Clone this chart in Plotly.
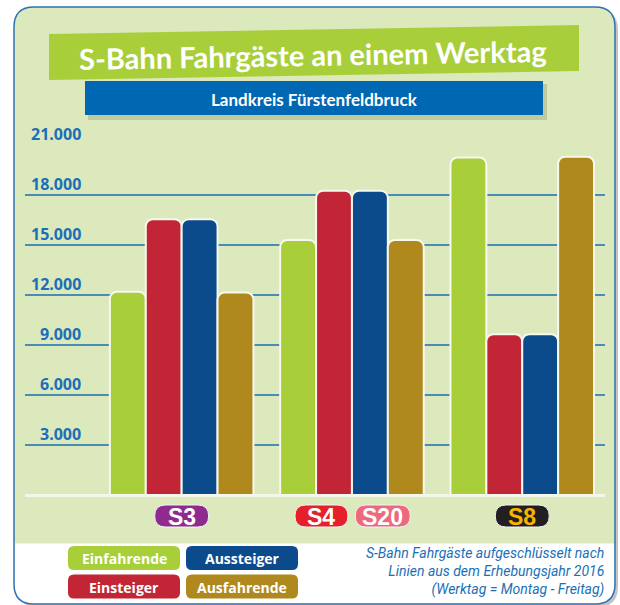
import plotly.graph_objects as go

# ---------------- data ----------------
lines = ["S3", "S4 / S20", "S8"]
einfahrende = [12200, 15300, 20250]
einsteiger = [16550, 18250, 9650]
aussteiger = [16550, 18250, 9650]
ausfahrende = [12150, 15300, 20300]
series_names = ["Einfahrende", "Einsteiger", "Aussteiger", "Ausfahrende"]
ytick_vals = [3000, 6000, 9000, 12000, 15000, 18000, 21000]
ytick_text = ["3.000", "6.000", "9.000", "12.000", "15.000", "18.000", "21.000"]
title = "S-Bahn Fahrgäste an einem Werktag"
subtitle = "Landkreis Fürstenfeldbruck"
note = "S-Bahn Fahrgäste aufgeschlüsselt nach<br>Linien aus dem Erhebungsjahr 2016<br>(Werktag = Montag - Freitag)"
badges = [["S3"], ["S4", "S20"], ["S8"]]

# ---------------- style ----------------
W, H = 620, 605
L, R, T, B = 25, 15, 145, 110
PW, PH = W - L - R, H - T - B
XR = [-0.92, 2.486]
colors = {"Einfahrende": "#a8cf3a", "Einsteiger": "#c22636",
          "Aussteiger": "#0b4a8b", "Ausfahrende": "#b0891e"}
badge_style = {"S3": ("#8f2b8f", "white"), "S4": ("#e5202a", "white"),
               "S20": ("#ec6a7c", "white"), "S8": ("#231f20", "#f7b500")}
GREEN_BG = "#dce9bc"
BLUE_TXT = "#1a6fb8"
TITLE_FONT = "Lato, Roboto, sans-serif"


def px(x):
    return (x - L) / PW


def py(y):
    return (H - B - y) / PH


def P(x, y):
    return f"{px(x):.5f},{py(y):.5f}"


def rrect(x0, y0, x1, y1, r, top=True, bottom=True):
    rt = r if top else 0
    rb = r if bottom else 0
    s = f"M {P(x0 + rt, y0)} L {P(x1 - rt, y0)} "
    if rt:
        s += f"Q {P(x1, y0)} {P(x1, y0 + rt)} "
    s += f"L {P(x1, y1 - rb)} "
    if rb:
        s += f"Q {P(x1, y1)} {P(x1 - rb, y1)} "
    s += f"L {P(x0 + rb, y1)} "
    if rb:
        s += f"Q {P(x0, y1)} {P(x0, y1 - rb)} "
    s += f"L {P(x0, y0 + rt)} "
    if rt:
        s += f"Q {P(x0, y0)} {P(x0 + rt, y0)} "
    return s + "Z"


def cat_px(i):
    return L + (i - XR[0]) / (XR[1] - XR[0]) * PW


fig = go.Figure()
vals = [einfahrende, einsteiger, aussteiger, ausfahrende]
for name, v in zip(series_names, vals):
    fig.add_trace(go.Bar(x=lines, y=v, name=name,
                         marker=dict(color=colors[name], cornerradius=7,
                                     line=dict(color="#f7f8ee", width=2)),
                         showlegend=False, hoverinfo="x+y+name"))

shapes = []
# frame shadow, frame, white lower panel, border
shapes.append(dict(type="path", xref="paper", yref="paper", layer="below",
                   path=rrect(17, 10, 618, 607, 20), fillcolor="#c4c4c4", line=dict(width=0)))
shapes.append(dict(type="path", xref="paper", yref="paper", layer="below",
                   path=rrect(14, 7, 615, 604, 20), fillcolor=GREEN_BG, line=dict(width=0)))
shapes.append(dict(type="path", xref="paper", yref="paper", layer="below",
                   path=rrect(14, 543.5, 615, 604, 20, top=False), fillcolor="white", line=dict(width=0)))
shapes.append(dict(type="path", xref="paper", yref="paper", layer="below",
                   path=rrect(14, 7, 615, 604, 20), fillcolor="rgba(0,0,0,0)",
                   line=dict(color="#2f72b3", width=1.5)))
# title banner (slightly tilted)
shapes.append(dict(type="path", xref="paper", yref="paper", layer="below",
                   path=f"M {P(49, 34)} L {P(579, 25)} L {P(579, 71)} L {P(49, 80)} Z",
                   fillcolor="#a8cf3a", line=dict(width=0)))
# subtitle box shadow + box
shapes.append(dict(type="path", xref="paper", yref="paper", layer="below",
                   path=rrect(88, 84, 547, 120, 0), fillcolor="rgba(90,90,60,0.22)", line=dict(width=0)))
shapes.append(dict(type="path", xref="paper", yref="paper", layer="below",
                   path=rrect(85, 81, 543, 115, 0), fillcolor="#0067b2", line=dict(width=0)))

annotations = []
annotations.append(dict(xref="paper", yref="paper", x=px(313), y=py(54), text=title,
                        showarrow=False, textangle=-1, xanchor="center", yanchor="middle",
                        font=dict(family=TITLE_FONT, size=29, color="white", weight="bold")))
annotations.append(dict(xref="paper", yref="paper", x=px(314), y=py(99), text=subtitle,
                        showarrow=False, xanchor="center", yanchor="middle",
                        font=dict(family=TITLE_FONT, size=17, color="white", weight="bold")))
# y labels above gridlines
for v, t in zip(ytick_vals, ytick_text):
    annotations.append(dict(xref="paper", yref="y", x=px(83), y=v, text=t, showarrow=False,
                            xanchor="right", yanchor="bottom", yshift=-2,
                            font=dict(family="Open Sans, sans-serif", size=16, color=BLUE_TXT,
                                      weight="bold")))
# line badges
badge_w = {"S3": 54, "S4": 53, "S20": 55, "S8": 54}
for i, group in enumerate(badges):
    c = cat_px(i)
    if len(group) == 1:
        centers = [c]
    else:
        centers = [c - 30.5, c + 30.8]
    for name, cx in zip(group, centers):
        bw = badge_w[name]
        bg, fg = badge_style[name]
        shapes.append(dict(type="path", xref="paper", yref="paper", layer="below",
                           path=rrect(cx - bw / 2, 505, cx + bw / 2, 527, 11),
                           fillcolor=bg, line=dict(color="#f4f4f4", width=1)))
        annotations.append(dict(xref="paper", yref="paper", x=px(cx), y=py(516.5), text=name,
                                showarrow=False, xanchor="center", yanchor="middle",
                                font=dict(family="Liberation Sans, Arial, sans-serif", size=23,
                                          color=fg, weight="bold")))
# legend boxes
leg_pos = {"Einfahrende": (68, 546), "Aussteiger": (186, 546),
           "Einsteiger": (68, 574.5), "Ausfahrende": (186, 574.5)}
for name in series_names:
    x0, y0 = leg_pos[name]
    shapes.append(dict(type="path", xref="paper", yref="paper", layer="below",
                       path=rrect(x0, y0, x0 + 112, y0 + 24, 6),
                       fillcolor=colors[name], line=dict(width=0)))
    annotations.append(dict(xref="paper", yref="paper", x=px(x0 + 56), y=py(y0 + 12.5), text=name,
                            showarrow=False, xanchor="center", yanchor="middle",
                            font=dict(family="Open Sans, sans-serif", size=14, color="white",
                                      weight="bold")))
annotations.append(dict(xref="paper", yref="paper", x=px(606), y=py(571), text=note,
                        showarrow=False, xanchor="right", yanchor="middle", align="right",
                        font=dict(family="Roboto, sans-serif", size=14, color=BLUE_TXT,
                                  style="italic")))

fig.update_layout(
    width=W, height=H, margin=dict(l=L, r=R, t=T, b=B, autoexpand=False),
    paper_bgcolor="white", plot_bgcolor="rgba(0,0,0,0)",
    barmode="group", bargap=0.157, bargroupgap=0,
    shapes=shapes, annotations=annotations,
    xaxis=dict(range=XR, showticklabels=False, showgrid=False, zeroline=False,
               showline=False, ticks="", fixedrange=True),
    yaxis=dict(range=[0, 21000], tickvals=ytick_vals, showticklabels=False,
               showgrid=True, gridcolor="#4a8db4", gridwidth=1.5,
               zeroline=True, zerolinecolor="#f3f6e8", zerolinewidth=2.5,
               showline=False, ticks="", fixedrange=True),
)

fig.write_html("out.html", config={"displayModeBar": False},
               post_script="document.body.style.margin='0px';document.body.style.overflow='hidden';")
